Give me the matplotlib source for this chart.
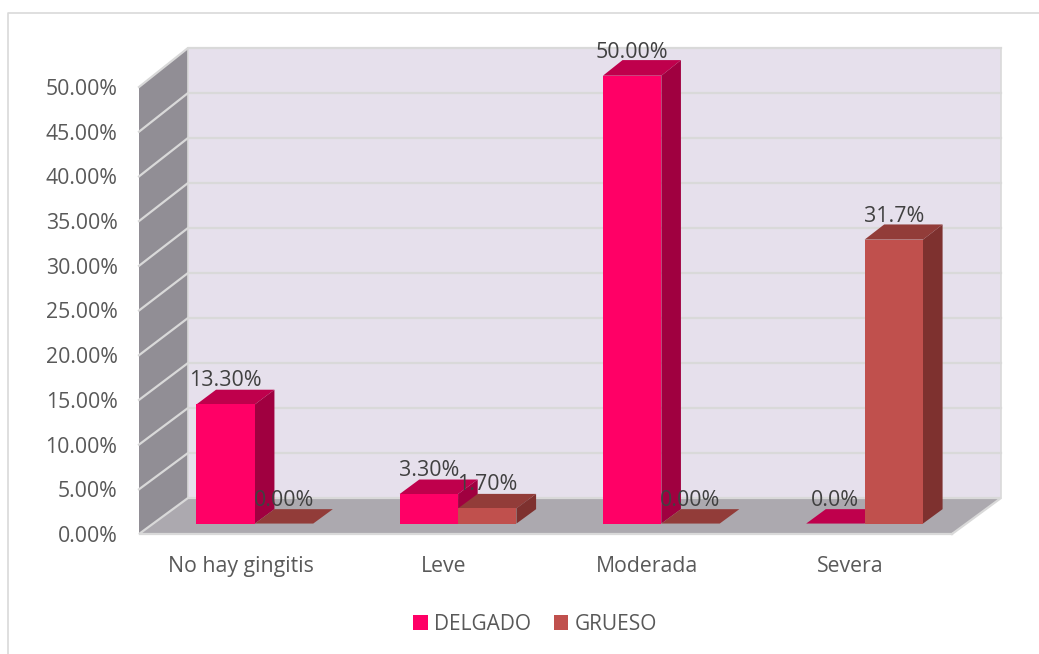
import matplotlib
matplotlib.use("Agg")
import matplotlib.pyplot as plt
from matplotlib.patches import Polygon, Patch
from matplotlib.lines import Line2D

categories = ["No hay gingitis", "Leve", "Moderada", "Severa"]
delgado = [13.3, 3.3, 50.0, 0.0]
grueso = [0.0, 1.7, 0.0, 31.7]
delgado_labels = ["13.30%", "3.30%", "50.00%", "0.0%"]
grueso_labels = ["0.00%", "1.70%", "0.00%", "31.7%"]
y_ticks = [0, 5, 10, 15, 20, 25, 30, 35, 40, 45, 50]
y_tick_labels = ["0.00%", "5.00%", "10.00%", "15.00%", "20.00%", "25.00%",
                 "30.00%", "35.00%", "40.00%", "45.00%", "50.00%"]

W, H = 1039, 654
plt.rcParams["font.family"] = ["Open Sans", "DejaVu Sans"]
fig = plt.figure(figsize=(W / 100, H / 100), dpi=100)
fig.patch.set_facecolor("white")

# front plane of the 3D box in pixels
L, R, B, T = 139, 952, 534, 87
ax = fig.add_axes([L / W, 1 - B / H, (R - L) / W, (B - T) / H])
ax.set_xlim(0, 4)
ax.set_ylim(0, 50)
ax.patch.set_alpha(0)
for s in ax.spines.values():
    s.set_visible(False)

ux = (R - L) / 4      # px per category
uy = (B - T) / 50     # px per percent
DX, DY = 49, 36       # box depth in px


def proj(x, v, d):
    """Oblique projection: category x, value v, depth d (0 front..1 back) to data coords."""
    return (x + DX * d / ux, v * (1 + 0.0067 * d) + DY * d / uy)


def poly(pts, fc, z=1):
    ax.add_patch(Polygon([proj(*p) for p in pts], closed=True, facecolor=fc,
                         edgecolor="none", linewidth=0, zorder=z, clip_on=False))


vmax = y_ticks[-1]
# walls and floor
poly([(0, 0, 1), (4, 0, 1), (4, vmax, 1), (0, vmax, 1)], "#E6E0EC", z=1)
poly([(0, 0, 0), (0, 0, 1), (0, vmax, 1), (0, vmax, 0)], "#918E95", z=1)
poly([(0, 0, 0), (4, 0, 0), (4, 0, 1), (0, 0, 1)], "#ACA9AF", z=1)

grid = "#D9D9D9"
for t in y_ticks:
    pts = [proj(0, t, 0), proj(0, t, 1), proj(4, t, 1)]
    if t == 0:
        pts = [proj(4, 0, 0), proj(0, 0, 0), proj(0, 0, 1), proj(4, 0, 1), proj(4, 0, 0)]
    ax.plot(*zip(*pts), color=grid, lw=1.6, zorder=2, clip_on=False,
            solid_joinstyle="miter")
ax.plot(*zip(proj(0, 0, 1), proj(0, vmax, 1)), color=grid, lw=1.2, zorder=2, clip_on=False)
ax.plot(*zip(proj(4, 0, 1), proj(4, vmax, 1)), color=grid, lw=1.2, zorder=2, clip_on=False)

# bars
BW = 58.4 / ux
D0, D1 = 0.29, 0.69
C1 = ("#FF0066", "#BF004C", "#A00040")
C2 = ("#C0504D", "#923C39", "#7E312F")


def bar(x, v, cols, z):
    front, top, side = cols
    x2 = x + BW
    poly([(x, v, D0), (x2, v, D0), (x2, v, D1), (x, v, D1)], top, z=z)
    if v > 0:
        poly([(x2, 0, D0), (x2, 0, D1), (x2, v, D1), (x2, v, D0)], side, z=z)
        poly([(x, 0, D0), (x2, 0, D0), (x2, v, D0), (x, v, D0)], front, z=z + 0.1)


for i, cat in enumerate(categories):
    c = i + 0.5
    bar(c - BW, delgado[i], C1, 3 + i * 0.5)
    bar(c, grueso[i], C2, 3.2 + i * 0.5)
    for xx, v, s in ((c - BW / 2, delgado[i], delgado_labels[i]),
                     (c + BW / 2, grueso[i], grueso_labels[i])):
        px, py = proj(xx, v, D0)
        ax.annotate(s, (px, py), xytext=(0, 23.5 * 0.72), textcoords="offset points",
                    ha="center", va="center", fontsize=15.4, color="#404040",
                    zorder=10, annotation_clip=False)

ax.set_xticks([i + 0.5 for i in range(4)], categories)
ax.set_yticks(y_ticks, y_tick_labels)
ax.tick_params(axis="both", length=0, labelsize=15.3, labelcolor="#595959")
ax.tick_params(axis="y", pad=15.5)
ax.tick_params(axis="x", pad=15.5)

# chart area border (left and top only visible)
fig.add_artist(Line2D([8 / W, 8 / W, 1], [0, 1 - 13 / H, 1 - 13 / H], color="#D9D9D9", lw=1.2))

handles = [Patch(facecolor=C1[0], label="DELGADO"), Patch(facecolor=C2[0], label="GRUESO")]
fig.legend(handles=handles, loc="center", bbox_to_anchor=(535 / W, 1 - 624.5 / H), ncol=2,
           frameon=False, fontsize=15, labelcolor="#595959", handlelength=0.7,
           handleheight=0.7, handletextpad=0.3, columnspacing=1.1)

fig.savefig("out.png", dpi=100)
